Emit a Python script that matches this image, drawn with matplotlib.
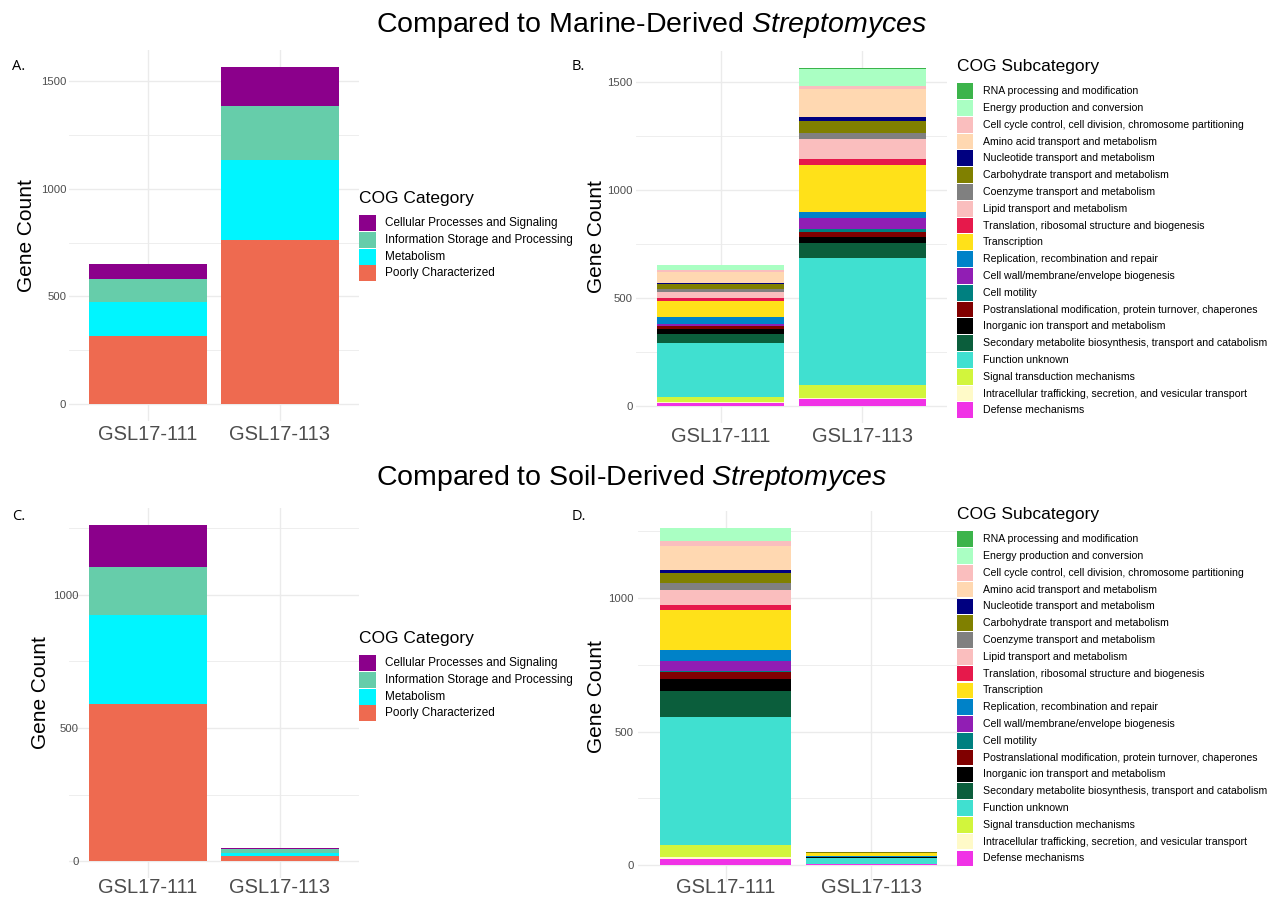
import matplotlib
matplotlib.use('Agg')
import matplotlib.pyplot as plt
from matplotlib.patches import Rectangle
from matplotlib.ticker import MultipleLocator
import numpy as np

plt.rcParams['font.family'] = 'Liberation Sans'
plt.rcParams['mathtext.fontset'] = 'custom'
plt.rcParams['mathtext.rm'] = 'Liberation Sans'
plt.rcParams['mathtext.it'] = 'Liberation Sans:italic'

strains = ['GSL17-111', 'GSL17-113']

# COG categories, legend order (top of stack first)
categories = ['Cellular Processes and Signaling', 'Information Storage and Processing',
              'Metabolism', 'Poorly Characterized']
cat_colors = ['#8b008b', '#66cdaa', '#00f5ff', '#ee6a50']

marine_cat_111 = [72, 108, 155, 317]
marine_cat_113 = [183, 249, 370, 763]
soil_cat_111 = [157, 181, 334, 590]
soil_cat_113 = [5, 15, 8, 21]

subcategories = ['RNA processing and modification', 'Energy production and conversion',
                 'Cell cycle control, cell division, chromosome partitioning',
                 'Amino acid transport and metabolism', 'Nucleotide transport and metabolism',
                 'Carbohydrate transport and metabolism', 'Coenzyme transport and metabolism',
                 'Lipid transport and metabolism',
                 'Translation, ribosomal structure and biogenesis', 'Transcription',
                 'Replication, recombination and repair', 'Cell wall/membrane/envelope biogenesis',
                 'Cell motility', 'Postranslational modification, protein turnover, chaperones',
                 'Inorganic ion transport and metabolism',
                 'Secondary metabolite biosynthesis, transport and catabolism',
                 'Function unknown', 'Signal transduction mechanisms',
                 'Intracellular trafficking, secretion, and vesicular transport',
                 'Defense mechanisms']
sub_colors = ['#3cb44b', '#aaffc3', '#fabebe', '#ffd8b1', '#000080', '#808000', '#808080',
              '#fabebe', '#e6194b', '#ffe119', '#0082c8', '#911eb4', '#008080', '#800000',
              '#000000', '#0b5e3c', '#40e0d0', '#d2f53c', '#fffac8', '#f032e6']

marine_sub_111 = [0, 23, 9, 51, 4, 24, 14, 27, 14, 75, 32, 8, 1, 14, 23, 42, 250, 22, 5, 15]
marine_sub_113 = [4, 79, 14, 130, 18, 56, 28, 92, 28, 218, 28, 49, 16, 23, 28, 69, 589, 61, 4, 32]
soil_sub_111 = [0, 51, 16, 90, 11, 38, 26, 56, 19, 149, 42, 37, 4, 26, 45, 97, 480, 45, 7, 24]
soil_sub_113 = [0, 0, 0, 0, 0, 4, 0, 0, 0, 12, 3, 0, 0, 0, 3, 1, 23, 0, 0, 3]

W, H = 1271, 902
fig = plt.figure(figsize=(W / 100, H / 100), dpi=100)


def px_axes(left, top, right, bottom):
    return fig.add_axes([left / W, 1 - bottom / H, (right - left) / W, (bottom - top) / H])


def stacked(ax, rows, colors, ypad=2.0, xpad=3.0):
    vals = np.array(rows)
    x = np.arange(len(strains))
    base = np.zeros(len(strains))
    for j in reversed(range(vals.shape[1])):
        ax.bar(x, vals[:, j], 0.9, bottom=base, color=colors[j], linewidth=0, zorder=2)
        base += vals[:, j]
    top = base.max()
    ax.set_xlim(-0.6, 1.6)
    ax.set_ylim(-0.05 * top, 1.05 * top)
    ax.set_xticks(x, strains)
    ax.yaxis.set_major_locator(MultipleLocator(500))
    ax.yaxis.set_minor_locator(MultipleLocator(250))
    ax.grid(which='major', color='#ebebeb', lw=1.0, zorder=0)
    ax.grid(which='minor', axis='y', color='#ebebeb', lw=0.6, zorder=0)
    ax.set_axisbelow(True)
    for s in ax.spines.values():
        s.set_visible(False)
    ax.tick_params(which='both', length=0)
    ax.tick_params(axis='y', labelsize=8.2, labelcolor='#4d4d4d', pad=ypad)
    ax.tick_params(axis='x', labelsize=14.5, labelcolor='#4d4d4d', pad=xpad)


def legend(x, y_title, y_first, pitch, keyw, keyh, textx, labels, colors, title, fs):
    fig.text(x / W, 1 - y_title / H, title, fontsize=12.5, va='center', ha='left')
    for i, (lab, col) in enumerate(zip(labels, colors)):
        ytop = y_first + i * pitch
        fig.add_artist(Rectangle((x / W, 1 - (ytop + keyh) / H), keyw / W, keyh / H,
                                 transform=fig.transFigure, facecolor=col, edgecolor='none'))
        fig.text(textx / W, 1 - (ytop + keyh / 2) / H, lab, fontsize=fs, va='center', ha='left')


def fig_text(x, y, s, **kw):
    fig.text(x / W, 1 - y / H, s, **kw)


# panels
axA = px_axes(69, 50, 359, 421)
stacked(axA, [marine_cat_111, marine_cat_113], cat_colors)
axB = px_axes(636, 51, 947, 423)
stacked(axB, [marine_sub_111, marine_sub_113], sub_colors, ypad=2.5)
axC = px_axes(69, 508, 359, 878)
stacked(axC, [soil_cat_111, soil_cat_113], cat_colors, ypad=-7, xpad=0)
axD = px_axes(638, 511, 959, 882)
stacked(axD, [soil_sub_111, soil_sub_113], sub_colors, ypad=3, xpad=-2.8)

# titles
fig_text(376, 25, r'Compared to Marine-Derived $\it{Streptomyces}$', fontsize=20.5,
         ha='left', va='center')
fig_text(376, 478, r'Compared to Soil-Derived $\it{Streptomyces}$', fontsize=20.5,
         ha='left', va='center')

# panel letters
for lab, x, y in [('A.', 12, 66), ('B.', 572, 66), ('C.', 12, 517), ('D.', 572, 517)]:
    fig_text(x, y, lab, fontsize=10.5, family='Open Sans', ha='left', va='center')

# y labels
for x, y in [(27, 236), (596, 237), (40, 693), (597, 697)]:
    fig_text(x, y, 'Gene Count', fontsize=15, rotation=90, ha='center', va='center')

# legends
legend(359, 199, 215, 16.8, 17, 16, 385, categories, cat_colors, 'COG Category', 8.5)
legend(359, 639, 655, 16.8, 17, 16, 385, categories, cat_colors, 'COG Category', 8.5)
legend(957, 66, 83.3, 16.8, 15.5, 15.7, 982.7, subcategories, sub_colors, 'COG Subcategory', 7.6)
legend(957, 514, 531.3, 16.8, 15.5, 15.7, 982.7, subcategories, sub_colors, 'COG Subcategory', 7.6)

fig.savefig('out.png', dpi=100)
